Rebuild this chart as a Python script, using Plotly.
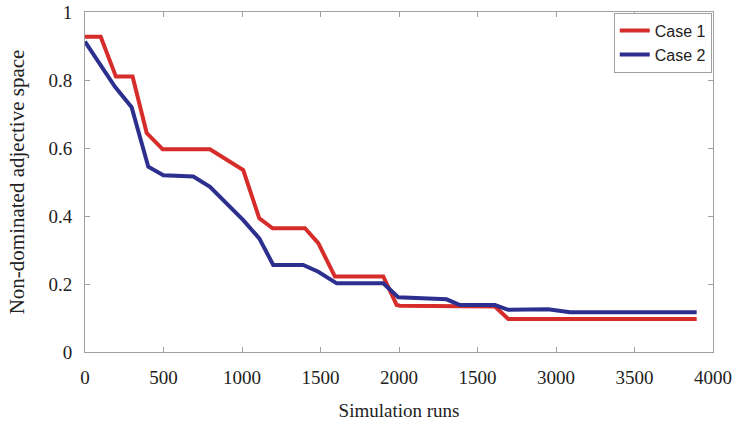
import plotly.graph_objects as go

# Case 1 (red)
case1_x = [0, 100, 197, 303, 393, 495, 796, 1008, 1110, 1195, 1401, 1486, 1592, 1900, 1985, 2006, 2611, 2696, 3896]
case1_y = [0.927, 0.927, 0.81, 0.81, 0.644, 0.596, 0.596, 0.535, 0.393, 0.364, 0.364, 0.32, 0.222, 0.222, 0.138, 0.136, 0.134, 0.097, 0.097]

# Case 2 (blue)
case2_x = [0, 191, 297, 403, 499, 690, 796, 1008, 1110, 1199, 1390, 1486, 1603, 1900, 1995, 2303, 2388, 2611, 2696, 2950, 3089, 3896]
case2_y = [0.913, 0.78, 0.72, 0.545, 0.52, 0.516, 0.486, 0.388, 0.334, 0.256, 0.256, 0.236, 0.202, 0.202, 0.161, 0.155, 0.138, 0.138, 0.124, 0.126, 0.117, 0.117]

x_tickvals = [0, 500, 1000, 1500, 2000, 2500, 3000, 3500, 4000]
x_ticktext = ["0", "500", "1000", "1500", "2000", "1500", "3000", "3500", "4000"]
y_tickvals = [0, 0.2, 0.4, 0.6, 0.8, 1]
y_ticktext = ["0", "0.2", "0.4", "0.6", "0.8", "1"]

fig = go.Figure()
fig.add_trace(go.Scatter(x=case1_x, y=case1_y, mode="lines", name="Case 1",
                         line=dict(color="#d62d2b", width=4)))
fig.add_trace(go.Scatter(x=case2_x, y=case2_y, mode="lines", name="Case 2",
                         line=dict(color="#2d2f8e", width=4)))

axis_common = dict(showline=True, linecolor="#a0a0a0", linewidth=1, mirror="ticks",
                   ticks="inside", ticklen=5, tickcolor="#a0a0a0", showgrid=False, zeroline=False,
                   automargin=False,
                   tickfont=dict(family="Liberation Serif", size=19, color="#222"))

fig.update_layout(
    width=738, height=432,
    margin=dict(l=85, r=25, t=12, b=80),
    paper_bgcolor="white", plot_bgcolor="white",
    xaxis=dict(range=[0, 4000], tickvals=x_tickvals, ticktext=x_ticktext,
               ticklabelstandoff=8,
               title=dict(text="Simulation runs", standoff=16,
                          font=dict(family="Liberation Serif", size=19, color="#222")),
               **axis_common),
    yaxis=dict(range=[0, 1], tickvals=y_tickvals, ticktext=y_ticktext,
               ticklabelstandoff=8,
               title=dict(text="Non-dominated adjective space", standoff=18,
                          font=dict(family="Liberation Serif", size=21, color="#222")),
               **axis_common),
    legend=dict(x=0.998, y=0.998, xanchor="right", yanchor="top", bgcolor="white",
                bordercolor="#a0a0a0", borderwidth=1,
                font=dict(family="Liberation Sans", size=16, color="#222"),
                tracegroupgap=0, itemwidth=30),
    showlegend=True,
)

fig.write_html("out.html")
